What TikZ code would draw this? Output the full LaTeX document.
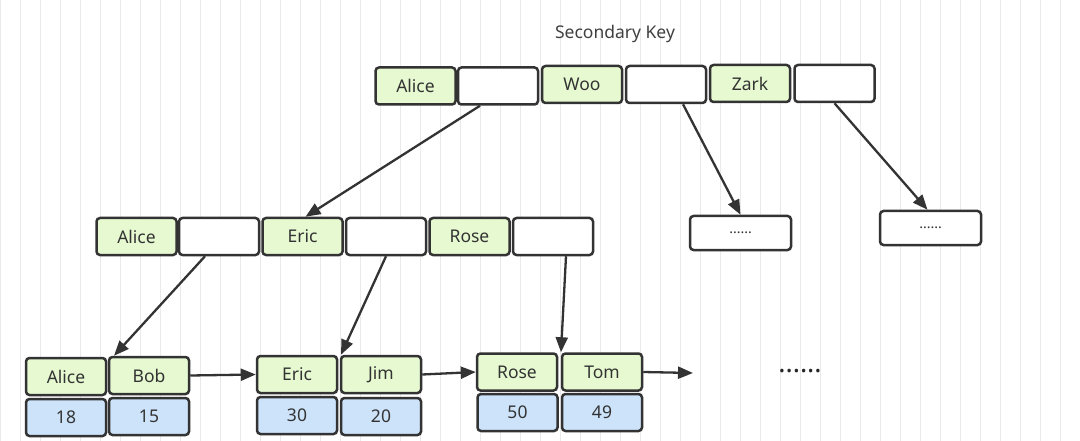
\documentclass[tikz,border=0pt]{standalone}
\usepackage{fontspec}
\setmainfont{Noto Sans}
\usetikzlibrary{arrows.meta}
\definecolor{kgreen}{HTML}{E6F9D0}
\definecolor{kblue}{HTML}{CCE3FA}
\definecolor{kborder}{HTML}{333333}
\definecolor{kgrid}{HTML}{EAEAEA}
\tikzset{
  cell/.style={draw=kborder, line width=2.5pt, rounded corners=3.5pt, minimum width=80pt, minimum height=37pt, inner sep=0pt, font=\fontsize{17.5}{19}\selectfont, text=black!80},
  keycell/.style={cell, fill=kgreen},
  ptrcell/.style={cell, fill=white},
  valcell/.style={cell, fill=kblue},
  dotcell/.style={cell, fill=white, minimum width=101pt, minimum height=34pt, text depth=-3pt, font=\bfseries\fontsize{14}{16}\selectfont},
  link/.style={draw=kborder, line width=2.3pt, -{Triangle[length=15pt,width=12pt]}}
}
\begin{document}
\begin{tikzpicture}[x=1pt,y=-1pt]
\useasboundingbox (0,0) rectangle (1080,441);
\fill[white] (0,0) rectangle (1080,441);
\draw[kgrid, line width=0.8pt, step=20] (0,0) grid (1080,441);

\node[font=\fontsize{17.5}{19}\selectfont, text=black!75] (title) at (615,34) {Secondary Key};

% top level
\node[keycell] (tA) at (415.5,86) {Alice};
\node[ptrcell] (tAp) at (498,86) {};
\node[keycell] (tW) at (582,84.5) {Woo};
\node[ptrcell] (tWp) at (666,84.5) {};
\node[keycell] (tZ) at (750,83.5) {Zark};
\node[ptrcell] (tZp) at (834.5,83.5) {};

% middle level
\node[keycell] (mA) at (136.5,236.5) {Alice};
\node[ptrcell] (mAp) at (219,236.5) {};
\node[keycell] (mE) at (302.5,236.5) {Eric};
\node[ptrcell] (mEp) at (386,236.5) {};
\node[keycell] (mR) at (469.5,236.5) {Rose};
\node[ptrcell] (mRp) at (553,236.5) {};

\node[dotcell] (d1) at (740.5,233) {......};
\node[dotcell] (d2) at (930.5,228) {......};

% leaves
\node[keycell] (lA) at (66,376.5) {Alice};
\node[keycell] (lB) at (149,375.5) {Bob};
\node[valcell] (v18) at (66,417.5) {18};
\node[valcell] (v15) at (149,416.5) {15};

\node[keycell] (lE) at (297,374.5) {Eric};
\node[keycell] (lJ) at (381,374.5) {Jim};
\node[valcell] (v30) at (297,415.5) {30};
\node[valcell] (v20) at (381,416.5) {20};

\node[keycell] (lR) at (517,372) {Rose};
\node[keycell] (lT) at (602,372) {Tom};
\node[valcell] (v50) at (517.5,412.5) {50};
\node[valcell] (v49) at (602,412.5) {49};

\node[font=\bfseries\fontsize{27}{29}\selectfont, text=black!85] (more) at (800,371) {......};
\coordinate (tail) at (693,373);

% connectors
\draw[link] ([xshift=-18pt]tAp.south) -- ([xshift=3pt]mE.north);
\draw[link] ([xshift=17pt]tWp.south) -- (d1.north);
\draw[link] (tZp.south) -- ([xshift=-3pt]d2.north);
\draw[link] ([xshift=-14pt]mAp.south) -- ([xshift=-35pt]lB.north);
\draw[link] (mEp.south) -- ([xshift=-40pt]lJ.north);
\draw[link] ([xshift=13pt]mRp.south) -- ([xshift=-41pt]lT.north);
\draw[link] (lB.east) -- (lE.west);
\draw[link] (lJ.east) -- (lR.west);
\draw[link] (lT.east) -- (tail);
\end{tikzpicture}
\end{document}
